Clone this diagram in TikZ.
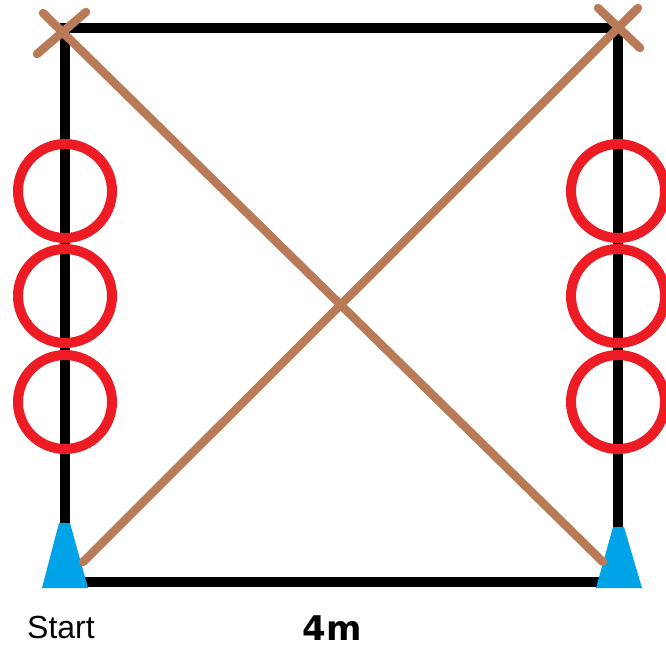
\documentclass[tikz,border=0pt]{standalone}
\usepackage{fontspec}
\setmainfont{Liberation Sans}
\newfontfamily\boldlabelfont{DejaVu Sans}
\definecolor{ringred}{RGB}{237,28,36}
\definecolor{crossbrown}{RGB}{185,122,87}
\definecolor{coneblue}{RGB}{0,162,232}
\begin{document}
\begin{tikzpicture}[x=1pt,y=-1pt,
  frame/.style={draw=black,line width=10pt,line join=miter},
  ring/.style={circle,draw=ringred,line width=10pt,minimum size=94pt,inner sep=0pt},
  cone/.style={fill=coneblue},
  brownline/.style={draw=crossbrown,line width=8.5pt,line cap=round},
  lbl/.style={inner sep=0pt,anchor=base west,font=\fontsize{32}{36}\selectfont}]
\useasboundingbox (0,0) rectangle (666,650);
% frame corners
\coordinate (tl) at (65,28);
\coordinate (tr) at (618,28);
\coordinate (br) at (618,582);
\coordinate (bl) at (65,582);
\draw[frame] (tl) -- (tr) -- (br) -- (bl) -- cycle;
% rings
\node[ring] (l1) at (65,191) {};
\node[ring] (l2) at (65,296) {};
\node[ring] (l3) at (65,402) {};
\node[ring] (r1) at (618,191) {};
\node[ring] (r2) at (618,296) {};
\node[ring] (r3) at (618,402) {};
% cones
\fill[cone] (59,523) -- (70,523) -- (88,588) -- (42,588) -- cycle;
\fill[cone] (613,527) -- (624,527) -- (642,588) -- (596,588) -- cycle;
% diagonals and crosses
\coordinate (d1s) at (43,13);
\coordinate (d1e) at (603,562);
\coordinate (d2s) at (83,562);
\coordinate (d2e) at (638,8);
\draw[brownline] (d1s) -- (d1e);
\draw[brownline] (d2s) -- (d2e);
\coordinate (x1a) at (86,12);
\coordinate (x1b) at (37,54);
\coordinate (x2a) at (598,8);
\coordinate (x2b) at (640,48);
\draw[brownline] (x1a) -- (x1b);
\draw[brownline] (x2a) -- (x2b);
% labels
\node[lbl] (start) at (27,638) {Start};
\node[lbl,anchor=base,font=\boldlabelfont\fontsize{34}{38}\selectfont\bfseries] (dist) at (332,640) {4m};
\end{tikzpicture}
\end{document}
